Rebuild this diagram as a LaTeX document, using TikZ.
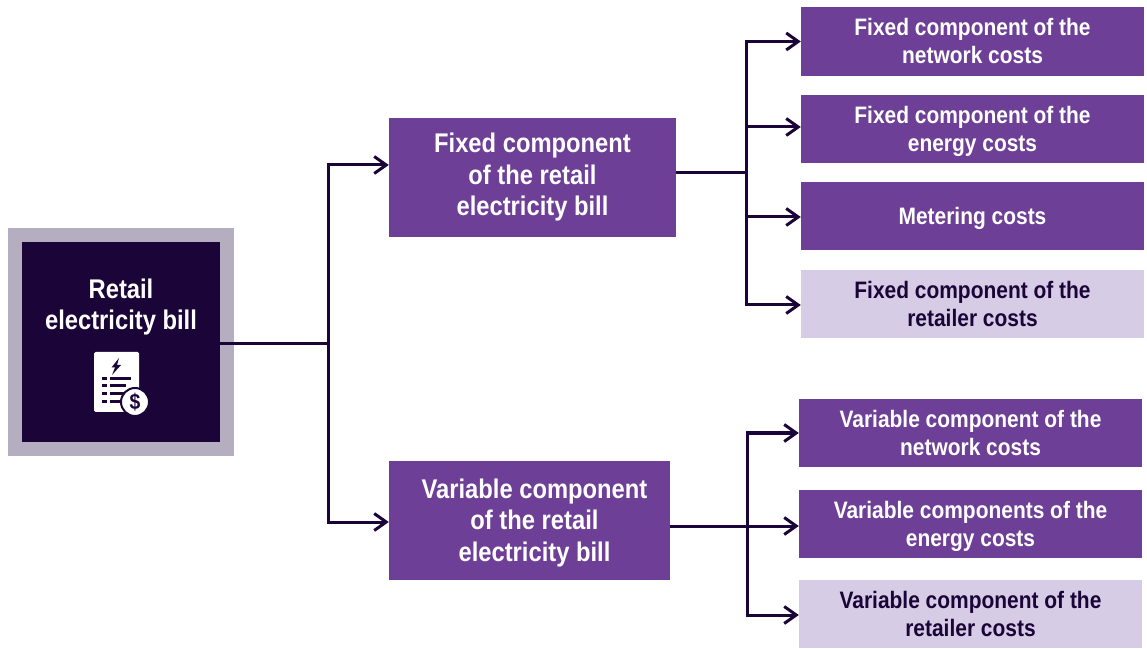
\documentclass[tikz,border=0pt]{standalone}
\usepackage{fontspec}
\setmainfont{Liberation Sans}[FakeStretch=0.88]
\usetikzlibrary{arrows.meta,positioning,calc}
\definecolor{Ink}{RGB}{27,5,56}
\definecolor{Plum}{RGB}{110,63,150}
\definecolor{Lilac}{RGB}{214,204,229}
\definecolor{Haze}{RGB}{181,174,192}
\newcommand{\leafstrut}{\rule[-5pt]{0pt}{27pt}}
\tikzset{
  rootbox/.style={draw=Haze,line width=14pt,fill=Ink,minimum width=212pt,minimum height=214pt,inner sep=0pt},
  midbox/.style={fill=Plum,text=white,minimum height=119pt,inner sep=0pt,align=center,font=\fontsize{27}{31.5}\selectfont\bfseries},
  leaf/.style={fill=Plum,text=white,minimum width=343pt,minimum height=68.5pt,inner sep=0pt,align=center,font=\fontsize{23.8}{28}\selectfont\bfseries},
  leaflight/.style={leaf,fill=Lilac,text=Ink},
  link/.style={draw=Ink,line width=3pt},
  linkarrow/.style={link,-{Straight Barb[length=12pt,width=17pt,line width=3pt]}}
}
\begin{document}
\begin{tikzpicture}[x=1pt,y=1pt]
\useasboundingbox (0,0) rectangle (1147,648);

\node[rootbox] (root) at (121,306) {};
\node[midbox,minimum width=287pt] (fixed) at (532.5,470.5) {Fixed component\\of the retail\\electricity bill};
\node[midbox,minimum width=281pt] (variable) at (529.5,127.5) {\rule{0pt}{24pt}\hspace*{10pt}Variable component\\\hspace*{10pt}of the retail\\\hspace*{10pt}electricity bill};

\node[leaf] (fixnet) at (972.5,606.5) {\leafstrut Fixed component of the\\\leafstrut network costs};
\node[leaf] (fixenergy) at (972.5,519) {\leafstrut Fixed component of the\\\leafstrut energy costs};
\node[leaf] (meter) at (972.5,432) {\leafstrut Metering costs};
\node[leaflight] (fixretail) at (972.5,344) {\leafstrut Fixed component of the\\\leafstrut retailer costs};
\node[leaf] (varnet) at (970.5,215) {\leafstrut Variable component of the\\\leafstrut network costs};
\node[leaf] (varenergy) at (970.5,124) {\leafstrut Variable components of the\\\leafstrut energy costs};
\node[leaflight] (varretail) at (970.5,34) {\leafstrut Variable component of the\\\leafstrut retailer costs};

\node[text=white,align=center,font=\fontsize{27}{31.5}\selectfont\bfseries] (roottext) at (121,341) {Retail\\electricity bill};

% bill icon
\fill[white,rounded corners=1.5pt] (94,236) rectangle (139,296);
\fill[Ink] (119,290) -- (111.5,280.5) -- (115,280.5) -- (112,273) -- (121,283) -- (117,283) -- cycle;
\foreach \yy/\xx in {269/131,262/126,254/124,246/122} {
  \fill[Ink] (102,\yy-1.5) rectangle (107,\yy+1.5);
  \fill[Ink] (110,\yy-1.5) rectangle (\xx,\yy+1.5);
}
\node[circle,fill=white,draw=Ink,line width=2pt,minimum size=28pt,inner sep=0pt,text=Ink,font=\fontsize{22}{22}\selectfont\bfseries] (dollar) at (135,246) {\$};

% connectors
\coordinate (rootbus) at (328,304);
\coordinate (fixbus) at (746,475);
\coordinate (varbus) at (747,122);
\draw[link] ([xshift=-14pt,yshift=-2pt]root.east) -- (rootbus);
\draw[linkarrow] (rootbus) |- ([yshift=12.5pt]fixed.west);
\draw[linkarrow] (rootbus) |- ([yshift=-1.5pt]variable.west);
\draw[link] ([yshift=4.5pt]fixed.east) -- (fixbus);
\draw[linkarrow] (fixbus) |- (fixnet.west);
\draw[linkarrow] (fixbus) |- ([yshift=2pt]fixenergy.west);
\draw[linkarrow] (fixbus) |- ([yshift=-1pt]meter.west);
\draw[linkarrow] (fixbus) |- ([yshift=-1pt]fixretail.west);
\draw[linkarrow] ([yshift=-5.5pt]variable.east) -- (varenergy.west |- varbus);
\draw[linkarrow] (varbus) |- (varnet.west);
\draw[linkarrow] (varbus) |- ([yshift=-1pt]varretail.west);
\end{tikzpicture}
\end{document}
